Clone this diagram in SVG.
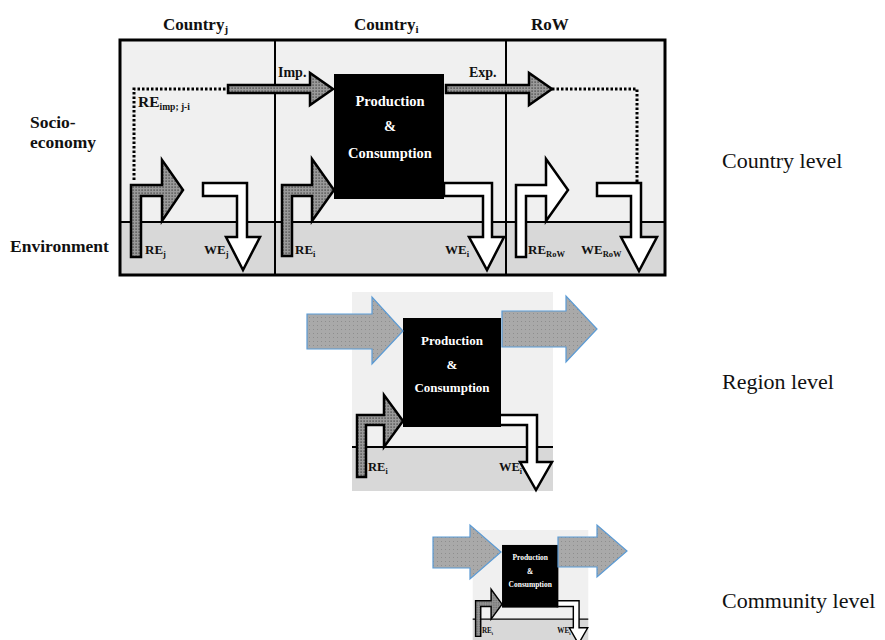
<svg xmlns="http://www.w3.org/2000/svg" width="885" height="640" viewBox="0 0 885 640">
<defs>
<pattern id="dk" width="3" height="3" patternUnits="userSpaceOnUse"><rect width="3" height="3" fill="#9a9a9a"/><rect x="0.5" y="0.5" width="1.2" height="1.2" fill="#333"/></pattern>
<pattern id="lt" width="4" height="4" patternUnits="userSpaceOnUse"><rect width="4" height="4" fill="#a9a9a9"/><rect x="1" y="1" width="1" height="1" fill="#8e8e8e"/></pattern>
</defs>
<style>
.b{font-family:"Liberation Serif","Times New Roman",serif;font-weight:bold;fill:#111}
.r{font-family:"Liberation Serif","Times New Roman",serif;fill:#111;font-size:22px}
.w{font-family:"Liberation Serif","Times New Roman",serif;font-weight:bold;fill:#fff;text-anchor:middle}
.dk{fill:url(#dk);stroke:#000;stroke-width:2.5;stroke-linejoin:miter}
.wh{fill:#fff;stroke:#000;stroke-width:2.5;stroke-linejoin:miter}
.big{fill:url(#lt);stroke:#5b9bd5;stroke-width:1.2}
.dot{fill:none;stroke:#000;stroke-width:3;stroke-dasharray:2.5 2}
.ln{stroke:#000;stroke-width:2;fill:none}
</style>

<g id="country-panel">
<rect x="120" y="40" width="545" height="182" fill="#f0f0f0"/>
<rect x="120" y="222" width="545" height="53" fill="#d8d8d8"/>
<line class="ln" x1="275" y1="40" x2="275" y2="275"/>
<line class="ln" x1="506" y1="40" x2="506" y2="275"/>
<line class="ln" x1="120" y1="222" x2="665" y2="222"/>
<rect x="120" y="40" width="545" height="235" fill="none" stroke="#000" stroke-width="3"/>
</g>

<g id="headers">
<text class="b" x="163" y="30" font-size="17">Country<tspan font-size="11" dy="3">j</tspan></text>
<text class="b" x="354" y="30" font-size="17">Country<tspan font-size="11" dy="3">i</tspan></text>
<text class="b" x="531" y="30" font-size="17">RoW</text>
<text class="b" x="30" y="128" font-size="17.5">Socio-</text>
<text class="b" x="30" y="148" font-size="17.5">economy</text>
<text class="b" x="10" y="252" font-size="17.5">Environment</text>
<text class="r" x="722" y="168">Country level</text>
<text class="r" x="722" y="389">Region level</text>
<text class="r" x="722" y="608" font-size="22.5">Community level</text>
</g>

<g id="connectors">
<path class="dot" d="M134,180 L134,89 L228,89"/>
<path class="dot" d="M552,89 L637,89 L637,182"/>
<path id="imp" class="dk" d="M228,85 L310,85 L310,73 L333,89 L310,105 L310,93 L228,93 Z"/>
<path id="exp" class="dk" d="M446,85 L529,85 L529,73 L552,89 L529,105 L529,93 L446,93 Z"/>
<path id="re-j" class="dk" d="M131,257 L131,185 L162,185 L162,160 L183,190 L162,221 L162,196 L141,196 L141,257 Z"/>
<path id="we-j" class="wh" d="M203,183 L247,183 L247,237 L260,237 L243,270 L226,237 L237,237 L237,196 L203,196 Z"/>
<path id="re-i" class="dk" d="M282,256 L282,185 L312,185 L312,159 L334,190 L312,221 L312,196 L292,196 L292,256 Z"/>
<path id="we-i" class="wh" d="M444,183 L492,183 L492,237 L504,237 L487,270 L469,237 L483,237 L483,196 L444,196 Z"/>
<path id="re-row" class="wh" d="M516,257 L516,185 L546,185 L546,159 L568,190 L546,221 L546,196 L526,196 L526,257 Z"/>
<path id="we-row" class="wh" d="M597,183 L641,183 L641,237 L657,237 L639,271 L621,237 L631,237 L631,196 L597,196 Z"/>
</g>

<g id="country-labels">
<text class="b" x="138" y="107" font-size="15.5">RE<tspan font-size="9.5" dy="3">imp; j-i</tspan></text>
<text class="b" x="278" y="77" font-size="14">Imp.</text>
<text class="b" x="469" y="77" font-size="14">Exp.</text>
<text class="b" x="145" y="254" font-size="13">RE<tspan font-size="8.5" dy="3">j</tspan></text>
<text class="b" x="204" y="254" font-size="13">WE<tspan font-size="8.5" dy="3">j</tspan></text>
<text class="b" x="295" y="254" font-size="13">RE<tspan font-size="8.5" dy="3">i</tspan></text>
<text class="b" x="445" y="254" font-size="13">WE<tspan font-size="8.5" dy="3">i</tspan></text>
<text class="b" x="528" y="254" font-size="13">RE<tspan font-size="8.5" dy="3">RoW</tspan></text>
<text class="b" x="581" y="254" font-size="13">WE<tspan font-size="8.5" dy="3">RoW</tspan></text>
</g>

<g id="pc-country">
<rect x="334" y="74" width="110" height="125" fill="#000"/>
<text class="w" x="390" y="106" font-size="14.5">Production</text>
<text class="w" x="390" y="131" font-size="14.5">&amp;</text>
<text class="w" x="390" y="158" font-size="14.5">Consumption</text>
</g>

<g id="region">
<g id="region-panel">
<rect x="352" y="292" width="201" height="155" fill="#f0f0f0"/>
<rect x="352" y="447" width="201" height="44" fill="#d8d8d8"/>
<line class="ln" x1="352" y1="447" x2="553" y2="447"/>
<path class="dk" d="M357,477 L357,415 L384,415 L384,395 L403,421 L384,447 L384,425 L366,425 L366,477 Z"/>
<path class="wh" d="M499,415 L537,415 L537,462 L552,462 L536,490 L520,462 L527,462 L527,425 L499,425 Z"/>
<rect x="403" y="318" width="98" height="109" fill="#000"/>
<text class="w" x="452" y="345" font-size="13">Production</text>
<text class="w" x="452" y="369" font-size="13">&amp;</text>
<text class="w" x="452" y="392" font-size="13">Consumption</text>
<text class="b" x="368" y="471" font-size="12.5">RE<tspan font-size="8" dy="3">i</tspan></text>
<text class="b" x="499" y="471" font-size="12.5">WE<tspan font-size="8" dy="3">i</tspan></text>
</g>
</g>
<g id="region-flows">
<path class="big" d="M307,314 L372,314 L372,297 L403,331 L372,364 L372,349 L307,349 Z"/>
<path class="big" d="M502,311 L566,311 L566,296 L597,329 L566,362 L566,347 L502,347 Z"/>
</g>

<g id="community" transform="translate(270.3,362.1) scale(0.575)">
<rect x="352" y="292" width="201" height="155" fill="#f0f0f0"/>
<rect x="352" y="447" width="201" height="44" fill="#d8d8d8"/>
<line class="ln" x1="352" y1="447" x2="553" y2="447"/>
<path class="dk" d="M357,477 L357,415 L384,415 L384,395 L403,421 L384,447 L384,425 L366,425 L366,477 Z"/>
<path class="wh" d="M499,415 L537,415 L537,462 L552,462 L536,490 L520,462 L527,462 L527,425 L499,425 Z"/>
<rect x="403" y="318" width="98" height="109" fill="#000"/>
<text class="w" x="452" y="345" font-size="13">Production</text>
<text class="w" x="452" y="369" font-size="13">&amp;</text>
<text class="w" x="452" y="392" font-size="13">Consumption</text>
<text class="b" x="368" y="471" font-size="12.5">RE<tspan font-size="8" dy="3">i</tspan></text>
<text class="b" x="499" y="471" font-size="12.5">WE<tspan font-size="8" dy="3">i</tspan></text>
</g>
<g id="community-flows">
<path class="big" stroke-width="1" d="M433,537 L470,537 L470,525 L501,552 L470,579 L470,568 L433,568 Z"/>
<path class="big" stroke-width="1" d="M558,537 L597,537 L597,525 L627,551 L597,577 L597,567 L558,567 Z"/>
</g>
</svg>
